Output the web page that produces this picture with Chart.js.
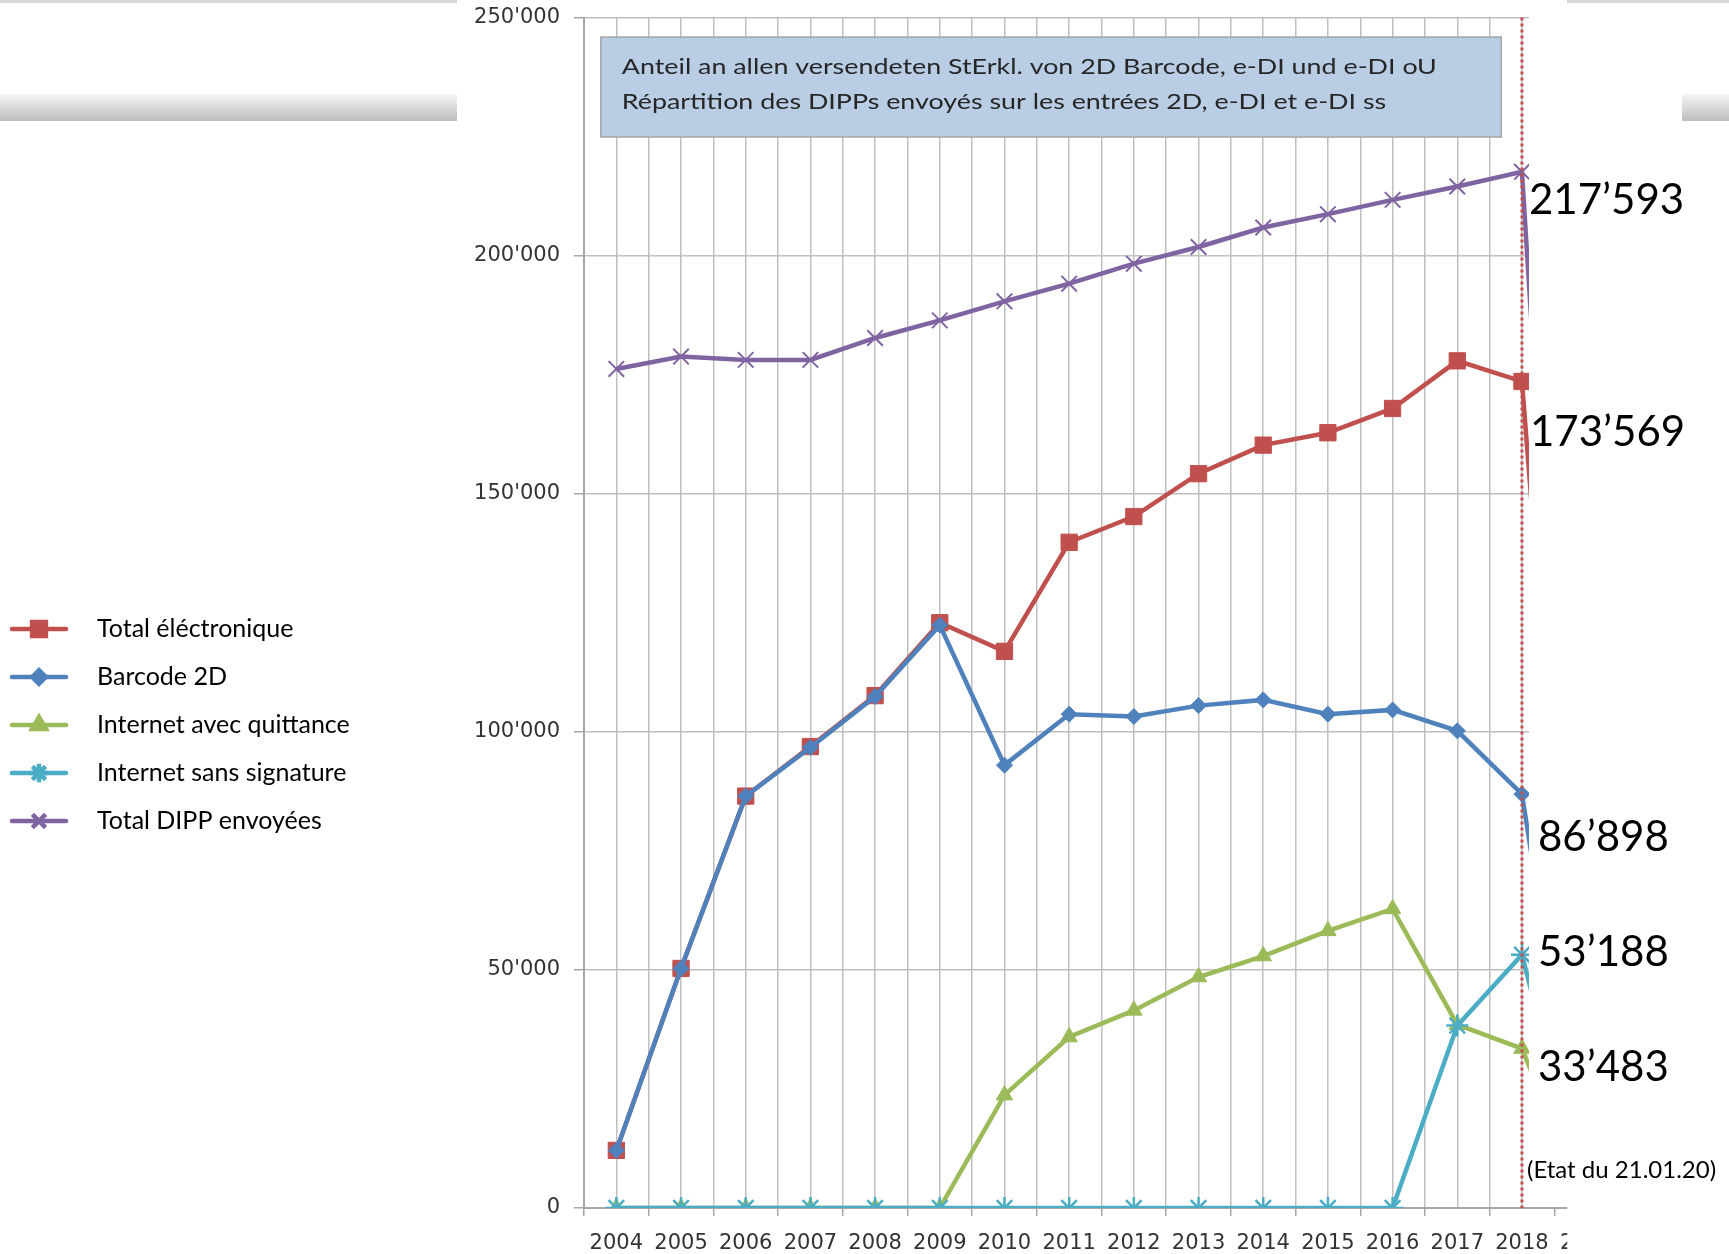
<!DOCTYPE html>
<html>
<head>
<meta charset="utf-8">
<script src="https://cdn.jsdelivr.net/npm/chart.js@4.4.0/dist/chart.umd.min.js"></script>
<style>
  html, body { margin: 0; padding: 0; background: #fff; }
  #wrap { position: relative; width: 1729px; height: 1254px; overflow: hidden; }
  canvas { position: absolute; left: 0; top: 0; }
  .bar { position: absolute; top: 94px; height: 27px; background: linear-gradient(#f6f6f6, #bdbdbd); }
  .topline { position: absolute; top: 0; height: 3px; background: #d6d6d6; }
</style>
</head>
<body>
<div id="wrap">
  <canvas id="chart" width="1729" height="1254"></canvas>
  <div class="topline" style="left:0;width:457px"></div>
  <div class="topline" style="left:1567px;width:162px"></div>
  <div class="bar" style="left:0;width:457px"></div>
  <div class="bar" style="left:1682px;width:47px"></div>
</div>
<script>
// values (2019 points drop to zero, hidden behind the label boxes)
const years = [2004, 2005, 2006, 2007, 2008, 2009, 2010, 2011, 2012, 2013, 2014, 2015, 2016, 2017, 2018, 2019];
const totalElectronique = [12100, 50300, 86500, 96900, 107600, 122900, 116900, 139800, 145200, 154200, 160200, 162800, 167900, 177900, 173569, 0];
const barcode2D = [12100, 50300, 86500, 96700, 107400, 122400, 93000, 103700, 103200, 105500, 106700, 103700, 104600, 100200, 86898, 0];
const internetQuittance = [0, 0, 0, 0, 0, 0, 23700, 35900, 41500, 48500, 52900, 58200, 62800, 38500, 33483, 0];
const internetSansSignature = [0, 0, 0, 0, 0, 0, 0, 0, 0, 0, 0, 0, 0, 38300, 53188, 0];
const totalDipp = [176200, 178800, 178100, 178100, 182700, 186400, 190400, 194100, 198300, 201800, 205900, 208700, 211700, 214500, 217593, 0];

const seriesNames = ['Total éléctronique', 'Barcode 2D', 'Internet avec quittance', 'Internet sans signature', 'Total DIPP envoyées'];
const titleLines = [
  'Anteil an allen versendeten StErkl. von 2D Barcode, e-DI und e-DI oU',
  'Répartition des DIPPs envoyés sur les entrées 2D, e-DI et e-DI ss'
];
const stateNote = '(Etat du 21.01.20)';
const lastYear = 2018;

const fmt = (v, sep) => String(v).replace(/\B(?=(\d{3})+(?!\d))/g, sep);
const pts = arr => years.map((yr, i) => ({ x: yr, y: arr[i] }));

function makeSet(label, arr, color, style, radius, bw, order) {
  return {
    label, data: pts(arr), borderColor: color, backgroundColor: color,
    borderWidth: 4.5, tension: 0, order,
    pointStyle: style, pointRadius: radius, pointBorderWidth: bw,
    pointBackgroundColor: color, pointBorderColor: color
  };
}

const datasets = [
  makeSet(seriesNames[0], totalElectronique, '#c0504d', 'rect', 11.5, 1, 5),
  makeSet(seriesNames[1], barcode2D, '#4f81bd', 'rectRot', 8, 1, 4),
  makeSet(seriesNames[2], internetQuittance, '#9bbb59', 'triangle', 9.5, 1, 3),
  makeSet(seriesNames[3], internetSansSignature, '#4bacc6', 'star', 11, 2.5, 2),
  makeSet(seriesNames[4], totalDipp, '#8064a2', 'crossRot', 11, 2, 1)
];

// offsets of the value boxes next to the 2018 points
const labelOffsets = [[8, 51], [16, 43], [16, 19], [16, -2], [7, 29]];

const extras = {
  id: 'extras',
  afterDatasetsDraw(chart) {
    const { ctx, chartArea: a, scales: { x, y } } = chart;
    const xl = x.getPixelForValue(lastYear);
    const idx = years.indexOf(lastYear);
    ctx.save();

    // white boxes that hide the drop to 2019
    ctx.fillStyle = '#fff';
    ctx.fillRect(xl + 7, 0, chart.width, a.bottom - 1);
    const cut = x.getPixelForValue(lastYear + 0.7);
    ctx.fillRect(cut, 0, chart.width, chart.height);

    // red dotted marker line
    ctx.strokeStyle = '#c0504d';
    ctx.lineWidth = 3;
    ctx.setLineDash([3, 3]);
    ctx.beginPath();
    ctx.moveTo(xl, a.top);
    ctx.lineTo(xl, a.bottom);
    ctx.stroke();
    ctx.setLineDash([]);

    // title box
    const bx1 = x.getPixelForValue(2003.76), bx2 = x.getPixelForValue(2017.68);
    const by1 = y.getPixelForValue(245900), by2 = y.getPixelForValue(224900);
    ctx.fillStyle = '#b9cde5';
    ctx.fillRect(bx1, by1, bx2 - bx1, by2 - by1);
    ctx.strokeStyle = '#a5a5a5';
    ctx.lineWidth = 1.5;
    ctx.strokeRect(bx1, by1, bx2 - bx1, by2 - by1);
    ctx.font = '21px Lato';
    ctx.fillStyle = '#262626';
    ctx.textBaseline = 'middle';
    ctx.textAlign = 'left';
    const sx = 815 / ctx.measureText(titleLines[0]).width;
    titleLines.forEach((t, i) => {
      ctx.save();
      ctx.translate(bx1 + 21, by1 + 30 + i * 35);
      ctx.scale(sx, 1);
      ctx.fillText(t, 0, 0);
      ctx.restore();
    });

    // value labels at 2018
    ctx.fillStyle = '#000';
    ctx.font = '42px Lato';
    datasets.forEach((ds, i) => {
      const v = ds.data[idx].y;
      ctx.fillText(fmt(v, '’'), xl + labelOffsets[i][0], y.getPixelForValue(v) + labelOffsets[i][1]);
    });
    ctx.font = '24px Lato';
    ctx.fillText(stateNote, xl + 5, a.bottom - 38);

    // legend on the left
    datasets.forEach((ds, i) => {
      const ly = 629 + i * 48;
      ctx.strokeStyle = ds.borderColor;
      ctx.fillStyle = ds.borderColor;
      ctx.lineWidth = 4.5;
      ctx.lineCap = 'round';
      ctx.beginPath();
      ctx.moveTo(12, ly);
      ctx.lineTo(66, ly);
      ctx.stroke();
      ctx.lineCap = 'butt';
      Chart.helpers.drawPoint(ctx, {
        pointStyle: ds.pointStyle, radius: ds.pointRadius * 0.85, rotation: 0, borderWidth: ds.pointBorderWidth
      }, 39, ly);
      ctx.fillStyle = '#000';
      ctx.font = '25px Lato';
      ctx.fillText(ds.label, 97, ly);
    });
    ctx.restore();
  }
};

new Chart(document.getElementById('chart'), {
  type: 'line',
  data: { datasets },
  options: {
    responsive: false,
    animation: false,
    devicePixelRatio: 1,
    layout: { padding: { left: 454, right: 110, top: 17.5, bottom: 0 } },
    plugins: { legend: { display: false }, tooltip: { enabled: false } },
    scales: {
      x: {
        type: 'linear',
        min: 2003.5,
        max: 2019.5,
        afterFit: s => { s.height = 46; },
        ticks: {
          stepSize: 0.5,
          autoSkip: false,
          maxRotation: 0,
          padding: 15,
          color: '#333',
          font: { family: 'DejaVu Sans', size: 21 },
          callback: v => Number.isInteger(v) ? String(v) : ''
        },
        grid: {
          color: '#bfbfbf',
          lineWidth: 1.5,
          tickLength: 8,
          tickColor: c => Number.isInteger(c.tick.value) ? 'rgba(0,0,0,0)' : '#a6a6a6'
        },
        border: { color: '#a6a6a6', width: 2 }
      },
      y: {
        min: 0,
        max: 250000,
        afterFit: s => { s.width = 130; s.paddingTop = 0; s.paddingBottom = 0; },
        ticks: {
          stepSize: 50000,
          padding: 14,
          color: '#333',
          font: { family: 'DejaVu Sans', size: 21 },
          callback: v => fmt(v, "'")
        },
        grid: { color: '#bfbfbf', lineWidth: 1.5, tickLength: 10, tickColor: '#a6a6a6' },
        border: { color: '#a6a6a6', width: 2 }
      }
    }
  },
  plugins: [extras]
});
</script>
</body>
</html>
